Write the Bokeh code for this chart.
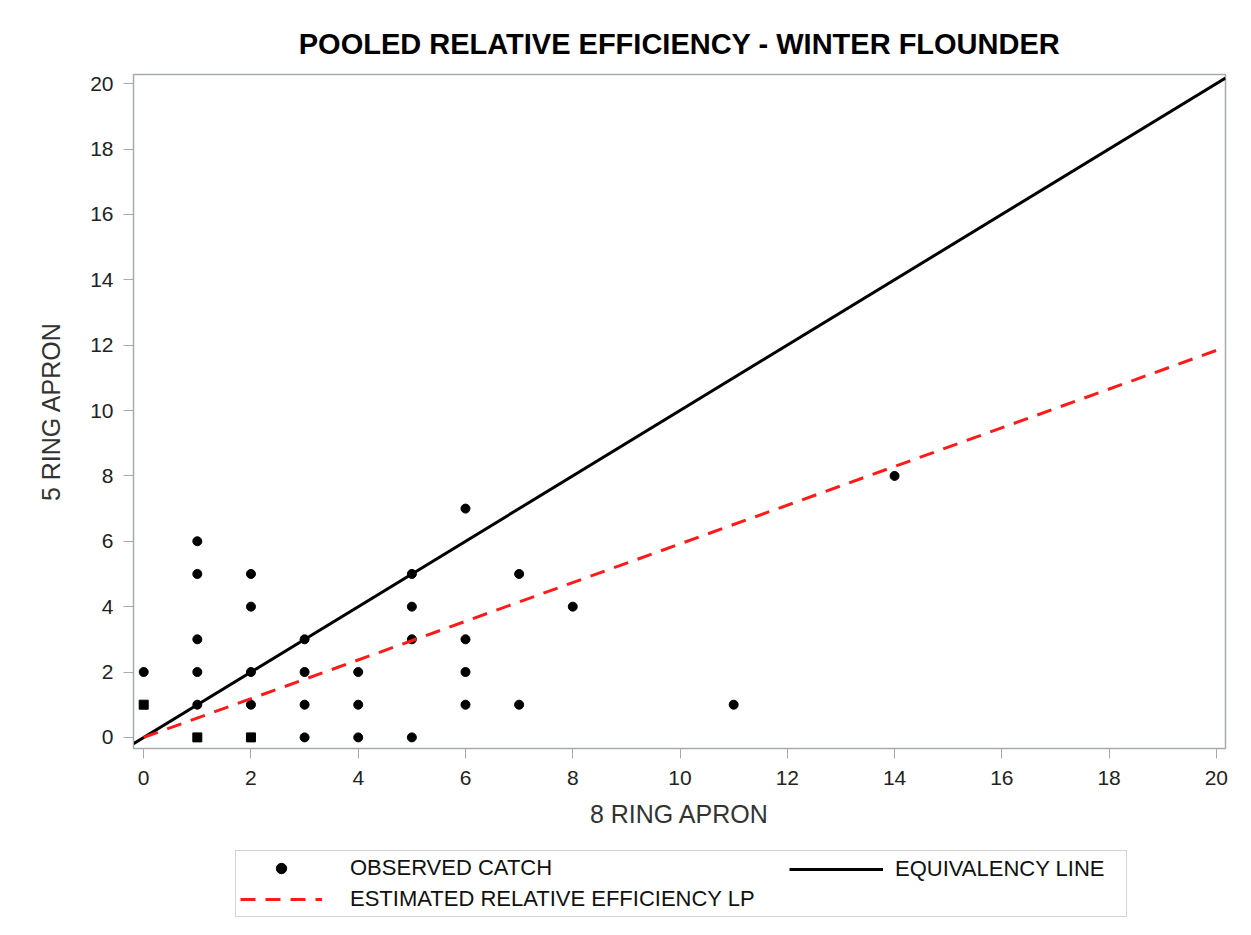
from bokeh.plotting import figure
from bokeh.models import Range1d, Legend, LegendItem, ColumnDataSource
from bokeh.layouts import column
from bokeh.embed import file_html
from bokeh.resources import INLINE

# data
catch_8ring = [0, 0, 1, 1, 1, 1, 1, 1, 2, 2, 2, 2, 2, 3, 3, 3, 3, 4, 4, 4,
               5, 5, 5, 5, 6, 6, 6, 6, 7, 7, 8, 11, 14]
catch_5ring = [2, 1, 6, 5, 3, 2, 1, 0, 5, 4, 2, 1, 0, 3, 2, 1, 0, 2, 1, 0,
               5, 4, 3, 0, 7, 3, 2, 1, 5, 1, 4, 1, 8]
markers = ["circle", "square", "circle", "circle", "circle", "circle", "circle", "square",
           "circle", "circle", "circle", "circle", "square", "circle", "circle", "circle", "circle",
           "circle", "circle", "circle", "circle", "circle", "circle", "circle", "circle", "circle",
           "circle", "circle", "circle", "circle", "circle", "circle", "circle"]
rel_eff_slope = 0.592
x_ticks = [0, 2, 4, 6, 8, 10, 12, 14, 16, 18, 20]
y_ticks = [0, 2, 4, 6, 8, 10, 12, 14, 16, 18, 20]
legend_labels = ["OBSERVED CATCH", "ESTIMATED RELATIVE EFFICIENCY LP", "EQUIVALENCY LINE"]

XMIN, XMAX = -0.19, 20.17
YMIN, YMAX = -0.34, 20.28

FONT = "Liberation Sans"
GRAY = "#a5aab0"
RED = "#ff1a1a"

p = figure(width=1245, height=845, output_backend="svg", toolbar_location=None,
           x_range=Range1d(XMIN, XMAX), y_range=Range1d(YMIN, YMAX),
           min_border_left=133, min_border_right=20, min_border_top=74, min_border_bottom=97)

p.title.text = "POOLED RELATIVE EFFICIENCY - WINTER FLOUNDER"
p.title.align = "center"
p.title.text_font = FONT
p.title.text_font_size = "29px"
p.title.text_font_style = "bold"
p.title.text_color = "#000000"
p.title.standoff = 29

p.xgrid.visible = False
p.ygrid.visible = False
p.outline_line_color = GRAY
p.outline_line_width = 1.5

for ax in (p.xaxis[0], p.yaxis[0]):
    ax.axis_line_color = GRAY
    ax.major_tick_line_color = GRAY
    ax.minor_tick_line_color = None
    ax.major_tick_out = 10
    ax.major_tick_in = 0
    ax.major_label_text_font = FONT
    ax.major_label_text_font_size = "21px"
    ax.major_label_text_color = "#222222"
    ax.axis_label_text_font = FONT
    ax.axis_label_text_font_size = "25px"
    ax.axis_label_text_font_style = "normal"
    ax.axis_label_text_color = "#333333"

p.xaxis.ticker = x_ticks
p.yaxis.ticker = y_ticks
p.xaxis.axis_label = "8 RING APRON"
p.yaxis.axis_label = "5 RING APRON"
p.xaxis.major_label_standoff = 12
p.yaxis.major_label_standoff = 10
p.xaxis.axis_label_standoff = 12
p.yaxis.axis_label_standoff = 22

src = ColumnDataSource(dict(x=catch_8ring, y=catch_5ring, m=markers))
p.scatter("x", "y", source=src, marker="m", size=9, color="black")

eq_x = [XMIN, XMAX]
p.line(eq_x, eq_x, line_color="black", line_width=3)

re_x = [0, XMAX]
re_y = [v * rel_eff_slope for v in re_x]
p.line(re_x, re_y, line_color=RED, line_width=3, line_dash="15 10")

# legend strip below the plot (same series, drawn off-range so only the legend shows)
H2 = 85
p2 = figure(width=1245, height=H2, output_backend="svg", toolbar_location=None,
            x_range=Range1d(1000, 1001), y_range=Range1d(1000, 1001),
            x_axis_type=None, y_axis_type=None, min_border=0)
p2.outline_line_color = None
p2.xgrid.visible = False
p2.ygrid.visible = False
r_pts = p2.scatter(catch_8ring, catch_5ring, marker="circle", size=9, color="black")
r_re = p2.line(re_x, re_y, line_color=RED, line_width=3, line_dash="15 10")
r_eq = p2.line(eq_x, eq_x, line_color="black", line_width=3)

legA = Legend(items=[LegendItem(label=legend_labels[0], renderers=[r_pts]),
                     LegendItem(label=legend_labels[1], renderers=[r_re])],
              location=(102, 13))
legB = Legend(items=[LegendItem(label=legend_labels[2], renderers=[r_eq])],
              location=(656, 48))
for lg in (legA, legB):
    lg.label_text_font = FONT
    lg.label_text_font_size = "22px"
    lg.label_text_color = "#111111"
    lg.label_height = 26
    lg.glyph_height = 26
    lg.spacing = 5
    lg.margin = 0
legA.padding = 4
legA.glyph_width = 82
legA.label_standoff = 28
legA.label_width = 772
legA.border_line_color = GRAY
legA.border_line_width = 1.5
legB.padding = 0
legB.glyph_width = 94
legB.label_standoff = 12
legB.border_line_color = None
legB.background_fill_alpha = 0
p2.add_layout(legA)
p2.add_layout(legB)

layout = column(p, p2, spacing=0)
open("out.html", "w").write(file_html(layout, INLINE))
